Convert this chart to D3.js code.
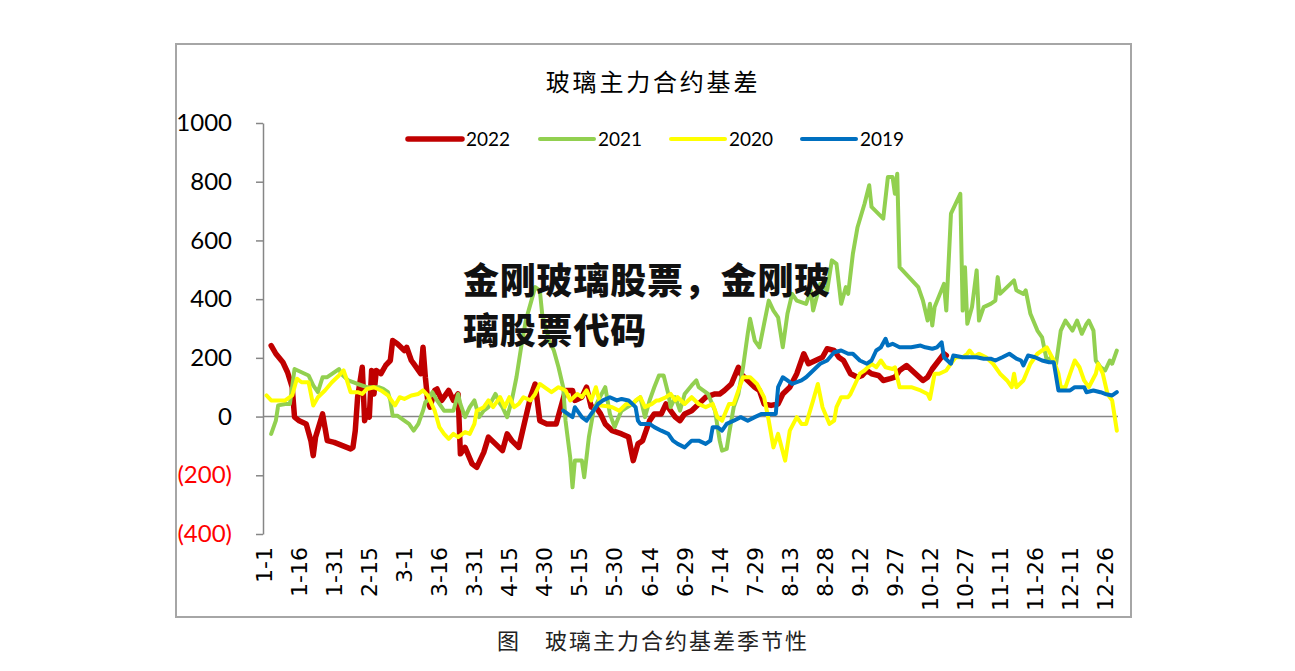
<!DOCTYPE html>
<html><head><meta charset="utf-8">
<script src="https://cdn.jsdelivr.net/npm/d3@7"></script>
<style>body{margin:0;background:#fff;} svg{display:block;}</style>
</head><body>
<svg id="c" width="1295" height="671"></svg>
<script>
// ---- data (category index = day of a 366-day year, 0 = 1-1) ----
const tickLabels = ["1-1","1-16","1-31","2-15","3-1","3-16","3-31","4-15","4-30","5-15","5-30","6-14","6-29","7-14","7-29","8-13","8-28","9-12","9-27","10-12","10-27","11-11","11-26","12-11","12-26"];
const yTicks = [1000,800,600,400,200,0,-200,-400];
const seriesNames = ["2022","2021","2020","2019"];
const seriesColors = ["#C00000","#92D050","#FFFF00","#0070C0"];

const s2022 = [[3,242],[5,214],[8,185],[10,151],[12,100],[13,-2],[15,-14],[18,-25],[20,-82],[21,-133],[22,-70],[25,9],[26,-36],[27,-82],[30,-88],[37,-110],[38,-105],[39,-48],[40,66],[42,168],[43,-14],[44,20],[45,-2],[46,157],[47,77],[48,157],[50,146],[52,174],[54,191],[55,259],[57,248],[60,225],[61,236],[63,191],[64,180],[67,146],[68,236],[69,134],[70,55],[71,32],[73,89],[74,94],[76,55],[79,89],[81,55],[83,77],[84,-127],[86,-105],[89,-161],[91,-173],[94,-122],[96,-70],[99,-93],[102,-116],[104,-59],[106,-82],[109,-105],[111,-36],[114,66],[116,111],[118,-14],[121,-25],[125,-25],[127,32],[129,89],[132,89],[133,55],[136,66],[138,100],[140,32],[142,32],[144,9],[146,-25],[149,-48],[153,-59],[156,-70],[158,-150],[160,-93],[162,-82],[165,-14],[167,9],[170,9],[172,43],[174,20],[176,-2],[178,-14],[180,9],[183,20],[186,43],[189,66],[193,77],[195,77],[197,89],[200,111],[203,168],[204,146],[207,123],[210,100],[212,89],[214,43],[217,38],[220,43],[222,77],[225,100],[228,146],[231,214],[233,180],[236,191],[239,202],[241,231],[244,225],[246,202],[248,191],[251,146],[254,134],[256,140],[258,157],[260,146],[263,140],[265,123],[268,129],[270,134],[272,157],[275,174],[282,123],[284,134],[286,162],[291,214],[292,208]];

const s2021 = [[3,-59],[5,-14],[6,38],[9,43],[11,43],[13,162],[16,151],[19,140],[21,106],[23,83],[25,134],[27,134],[32,162],[33,146],[36,123],[40,111],[44,100],[49,100],[51,94],[53,83],[54,55],[55,3],[57,3],[60,-14],[62,-25],[64,-48],[66,-25],[68,20],[69,49],[70,55],[72,83],[74,55],[77,20],[79,20],[81,20],[83,77],[84,43],[86,-2],[88,32],[90,55],[92,-2],[94,20],[96,32],[99,77],[101,43],[102,32],[104,-2],[106,55],[108,134],[110,236],[112,327],[114,384],[116,441],[118,430],[119,350],[122,259],[124,225],[126,168],[128,100],[129,-14],[131,-139],[132,-241],[133,-150],[136,-150],[137,-207],[139,-70],[141,20],[143,55],[146,100],[148,9],[150,-36],[152,3],[153,20],[157,40],[161,66],[163,-2],[165,55],[167,100],[169,140],[171,140],[173,77],[174,32],[176,66],[178,20],[180,77],[183,106],[185,123],[186,100],[190,77],[193,20],[195,-82],[196,-116],[198,-110],[199,-59],[201,32],[203,77],[205,168],[207,282],[208,333],[210,259],[212,236],[214,316],[216,395],[218,361],[220,338],[222,236],[224,350],[226,418],[228,395],[232,384],[234,430],[235,361],[238,452],[241,430],[243,532],[245,520],[247,384],[249,441],[250,418],[252,554],[254,645],[257,725],[259,788],[260,714],[265,674],[267,816],[269,816],[270,759],[271,827],[272,509],[280,441],[282,395],[284,327],[285,384],[286,310],[287,373],[291,452],[292,361],[294,691],[298,759],[299,361],[300,509],[301,316],[303,373],[305,498],[306,327],[308,373],[311,384],[313,395],[314,475],[315,418],[318,441],[321,464],[322,430],[325,418],[326,430],[328,350],[331,293],[333,270],[335,191],[337,202],[339,180],[341,293],[343,327],[346,293],[348,327],[350,282],[352,316],[353,327],[355,293],[356,191],[358,168],[360,157],[362,191],[363,180],[365,225]];

const s2020 = [[1,72],[3,55],[6,55],[9,55],[12,72],[14,129],[16,117],[19,117],[21,38],[23,66],[26,89],[29,117],[32,140],[34,157],[35,134],[37,83],[40,83],[42,77],[44,94],[47,100],[50,89],[53,72],[56,38],[58,66],[60,60],[63,72],[66,77],[68,89],[70,72],[73,20],[75,-36],[77,-59],[79,-76],[81,-59],[83,-70],[86,-53],[88,-59],[90,-25],[91,20],[94,32],[96,55],[98,32],[101,66],[103,32],[105,66],[107,32],[109,43],[111,66],[114,55],[116,77],[118,111],[121,94],[123,83],[126,100],[129,89],[131,55],[134,77],[136,66],[138,89],[140,55],[142,100],[144,38],[147,35],[149,32],[152,20],[155,43],[158,43],[159,55],[161,66],[163,32],[166,43],[168,55],[169,55],[172,66],[174,77],[176,55],[177,66],[180,43],[183,66],[186,43],[189,32],[192,43],[194,-2],[196,-14],[199,43],[201,43],[203,89],[205,134],[208,134],[211,111],[214,66],[216,-14],[218,-105],[220,-59],[223,-150],[225,-48],[228,-2],[230,-25],[232,-25],[235,55],[237,111],[239,32],[242,-25],[244,-14],[245,32],[247,66],[250,66],[251,77],[253,111],[255,146],[257,157],[260,180],[262,168],[264,191],[266,168],[269,162],[270,168],[272,100],[277,100],[281,89],[284,77],[285,60],[287,146],[289,146],[292,157],[294,180],[296,202],[299,202],[301,214],[302,225],[304,205],[306,214],[309,202],[312,180],[315,146],[318,123],[320,100],[321,146],[322,100],[325,123],[328,180],[331,214],[333,225],[335,236],[338,191],[340,146],[341,100],[343,100],[345,146],[347,191],[349,168],[351,123],[353,100],[356,146],[357,180],[359,146],[361,77],[363,55],[365,-48]];

const s2019 = [[128,20],[130,9],[132,-2],[133,32],[136,-2],[138,-14],[140,9],[143,43],[145,55],[148,66],[151,55],[153,60],[156,55],[159,32],[160,-14],[161,-25],[165,-25],[167,-36],[170,-48],[173,-59],[175,-82],[177,-93],[180,-105],[183,-82],[186,-82],[189,-93],[191,-82],[192,-36],[194,-36],[196,-48],[198,-25],[201,-14],[204,-2],[207,-14],[210,-2],[213,9],[216,9],[219,9],[220,100],[222,134],[224,123],[226,111],[230,123],[232,134],[235,157],[238,180],[241,191],[244,219],[247,225],[250,214],[252,214],[255,191],[258,180],[260,191],[262,225],[264,236],[266,265],[267,242],[269,248],[272,236],[277,236],[281,242],[283,236],[286,231],[288,236],[290,253],[291,202],[294,180],[295,208],[299,202],[305,202],[308,197],[311,197],[313,191],[316,202],[319,214],[322,197],[324,191],[325,174],[327,208],[330,202],[333,191],[336,185],[338,185],[340,89],[342,89],[345,89],[347,100],[351,100],[352,83],[355,89],[358,83],[360,77],[363,72],[365,83]];

const allSeries = [s2022, s2021, s2020, s2019];
const lineWidths = [5.5, 4, 4, 4];

// ---- drawing ----
const svg = d3.select("#c");
svg.append("rect").attr("x",176).attr("y",44).attr("width",955).attr("height",573)
  .attr("fill","#fff").attr("stroke","#a6a6a6").attr("stroke-width",2);

const x = d3.scaleLinear().domain([-0.5, 365.5]).range([263, 1118]);
const y = d3.scaleLinear().domain([-400, 1000]).range([534, 123]);

// title
svg.append("text").attr("x",653).attr("y",91).attr("text-anchor","middle")
  .attr("font-family","'Noto Sans CJK SC'").attr("font-size",24).attr("letter-spacing",2.8)
  .attr("fill","#000").text("玻璃主力合约基差");

// y axis
const yAxis = svg.append("g").attr("transform","translate(263,0)")
  .call(d3.axisLeft(y).tickValues(yTicks).tickSize(7).tickSizeOuter(0).tickPadding(24)
    .tickFormat(v => v < 0 ? `(${-v})` : `${v}`));
yAxis.select(".domain").attr("stroke","#868686").attr("stroke-width",1.5);
yAxis.selectAll(".tick line").attr("stroke","#868686").attr("stroke-width",1.5);
yAxis.selectAll(".tick text").attr("font-family","Lato").attr("font-size",24)
  .attr("fill", v => v < 0 ? "#FF0000" : "#000");

// zero line (category axis)
svg.append("line").attr("x1",x(-0.5)).attr("x2",x(365.5)).attr("y1",y(0)).attr("y2",y(0))
  .attr("stroke","#868686").attr("stroke-width",1.5);

// x tick labels
svg.append("g").selectAll("text").data(tickLabels).join("text")
  .attr("transform",(d,i)=>`translate(${x(i*15)},547) rotate(-90)`)
  .attr("text-anchor","end").attr("dy","0.36em")
  .attr("font-family","'DejaVu Sans'").attr("font-size",22).attr("fill","#000")
  .text(d=>d);

// lines
const line = d3.line().x(d=>x(d[0])).y(d=>y(d[1]));
allSeries.forEach((s,i)=>{
  svg.append("path").datum(s).attr("d",line).attr("fill","none")
    .attr("stroke",seriesColors[i]).attr("stroke-width",lineWidths[i])
    .attr("stroke-linejoin","round").attr("stroke-linecap","round");
});

// legend
const legX = [408, 540, 671, 802];
const leg = svg.append("g");
seriesNames.forEach((n,i)=>{
  leg.append("line").attr("x1",legX[i]).attr("x2",legX[i]+54).attr("y1",139).attr("y2",139)
    .attr("stroke",seriesColors[i]).attr("stroke-width",lineWidths[i]).attr("stroke-linecap","round");
  leg.append("text").attr("x",legX[i]+58).attr("y",146).attr("font-family","Lato").attr("font-size",19)
    .attr("fill","#000").text(n);
});

// overlay text
const wm = svg.append("g").attr("font-family","'Noto Sans CJK SC'").attr("font-weight",900)
  .attr("font-size",36).attr("letter-spacing",0.8).attr("fill","#111");
wm.append("text").attr("x",463).attr("y",294).text("金刚玻璃股票，金刚玻");
wm.append("text").attr("x",463).attr("y",344).text("璃股票代码");

// caption
svg.append("text").attr("x",497).attr("y",649).attr("font-family","'Noto Sans CJK SC'")
  .attr("font-size",22).attr("letter-spacing",2).attr("fill","#222").text("图　玻璃主力合约基差季节性");
</script>
</body></html>
